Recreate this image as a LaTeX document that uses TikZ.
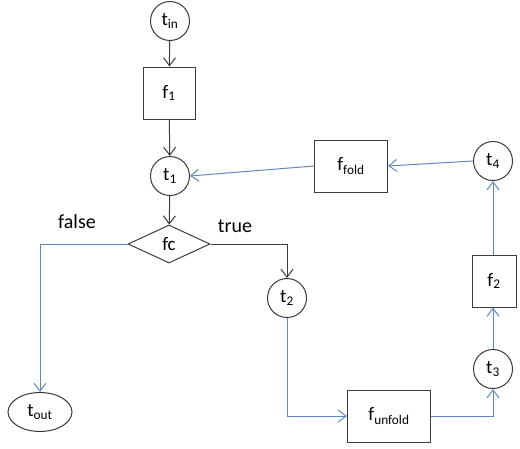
\documentclass[tikz,border=0pt]{standalone}
\usepackage{fontspec}
\setmainfont{Carlito}
\usetikzlibrary{arrows.meta,shapes.geometric}
\definecolor{flowblue}{RGB}{92,138,192}
\definecolor{flowdark}{RGB}{60,60,60}
\begin{document}
\begin{tikzpicture}[x=1pt,y=-1pt,
  base/.style={draw=flowdark, line width=1pt, fill=white, inner sep=0pt,
    font=\fontsize{19}{22}\selectfont},
  state/.style={base, circle, minimum size=39pt},
  proc/.style={base, rectangle, minimum height=52pt},
  test/.style={base, diamond, aspect=2.2, minimum width=82pt, minimum height=38pt},
  lbl/.style={font=\fontsize{20}{23}\selectfont, inner sep=0pt},
  tip/.style={-{Straight Barb[length=8pt,width=12pt,line width=1pt]}},
  darkline/.style={tip, draw=flowdark, line width=1pt},
  blueline/.style={tip, draw=flowblue, line width=1pt}]
\useasboundingbox (0,0) rectangle (520,448);

% states and operations
\node[state] (tin) at (170,21) {t\textsubscript{in}};
\node[proc, minimum width=52pt] (f1) at (169,93) {f\textsubscript{1}};
\node[state] (t1) at (170,176) {t\textsubscript{1}};
\node[test] (fc) at (169,244) {fc};
\node[base, ellipse, minimum width=64pt, minimum height=39pt] (tout) at (40,412) {t\textsubscript{out}};
\node[state] (t2) at (287,298) {t\textsubscript{2}};
\node[proc, minimum width=83pt] (fun) at (389,416) {f\textsubscript{unfold}};
\node[state] (t3) at (493,369) {t\textsubscript{3}};
\node[proc, minimum width=44pt] (f2) at (494,281) {f\textsubscript{2}};
\node[state] (t4) at (493,161) {t\textsubscript{4}};
\node[proc, minimum width=73pt] (ffold) at (351,166) {f\textsubscript{fold}};

% branch labels
\node[lbl] (lfalse) at (77,222) {false};
\node[lbl] (ltrue) at (235,226) {true};

% main path
\draw[darkline] (tin) -- (f1);
\draw[darkline] (f1) -- (t1);
\draw[darkline] (t1) -- (fc);
\draw[darkline] (fc.east) -| (t2.north);

% exit and loop body
\draw[blueline] (fc.west) -| (tout.north);
\draw[blueline] (t2.south) |- (fun.west);
\draw[blueline] (fun.east) -| (t3.south);
\draw[blueline] (t3) -- (t3 |- f2.south);
\draw[blueline] (t4 |- f2.north) -- (t4);
\draw[blueline] (t4.west) -- (ffold.east);
\draw[blueline] (ffold.west) -- (t1.east);
\end{tikzpicture}
\end{document}
